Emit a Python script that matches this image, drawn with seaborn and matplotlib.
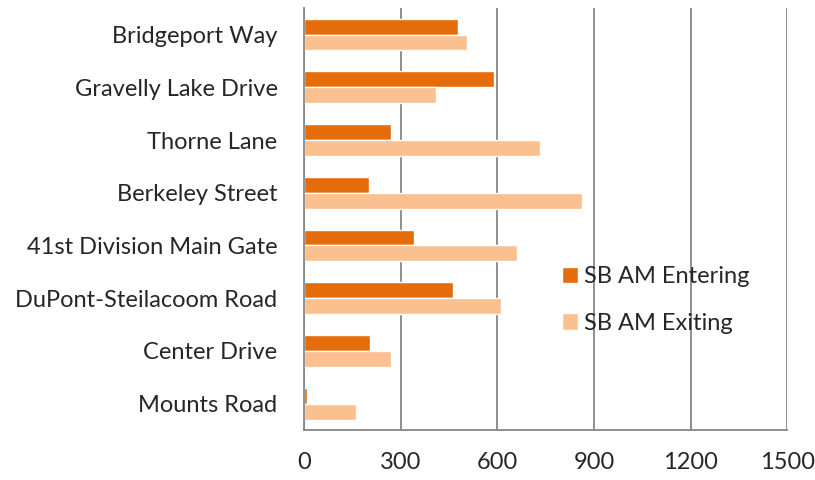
import matplotlib
matplotlib.use("Agg")
import matplotlib.pyplot as plt
import seaborn as sns
import pandas as pd
import numpy as np

categories = ["Bridgeport Way", "Gravelly Lake Drive", "Thorne Lane", "Berkeley Street",
              "41st Division Main Gate", "DuPont-Steilacoom Road", "Center Drive", "Mounts Road"]
entering = [479, 590, 270, 201, 342, 461, 206, 10]
exiting = [505, 410, 734, 864, 660, 611, 270, 161]
series = ["SB AM Entering", "SB AM Exiting"]
xticks = [0, 300, 600, 900, 1200, 1500]

df = pd.DataFrame({
    "Location": categories * 2,
    "Value": entering + exiting,
    "Series": [series[0]] * len(categories) + [series[1]] * len(categories),
})

sns.set_style("white")
plt.rcParams['font.family'] = ['Lato', 'DejaVu Sans']
FS = 17

fig = plt.figure(figsize=(8.15, 4.8), dpi=100)
ax = fig.add_axes([0.373, 0.104, 0.593, 0.879])

sns.barplot(data=df, y="Location", x="Value", hue="Series", order=categories,
            hue_order=series, palette=["#E46C0A", "#FAC090"], width=0.6,
            saturation=1, ax=ax, orient="h")

ax.set_xlim(0, 1500)
ax.set_ylim(len(categories) - 0.5, -0.5)
ax.set_xticks(xticks)
ax.set_xticklabels([str(t) for t in xticks], fontsize=FS)
ax.set_yticks(range(len(categories)))
ax.set_yticklabels(categories, fontsize=FS)
ax.set_yticks(np.arange(-0.5, len(categories), 1.0), minor=True)
ax.tick_params(axis="y", which="major", length=0, pad=19)
ax.tick_params(axis="y", which="minor", length=6, width=1.3, color="#868686", direction="out")
ax.tick_params(axis="x", which="major", length=6, width=1.3, color="#868686", direction="out", pad=10)
ax.set_xlabel("")
ax.set_ylabel("")
ax.grid(axis="x", color="#868686", linewidth=1.3)
ax.set_axisbelow(True)
for s in ["top", "right"]:
    ax.spines[s].set_visible(False)
for s in ["left", "bottom"]:
    ax.spines[s].set_color("#868686")
    ax.spines[s].set_linewidth(1.3)

handles, labels = ax.get_legend_handles_labels()
ax.legend(handles, labels, loc="upper left", bbox_to_anchor=(0.663, 0.49),
          bbox_transform=fig.transFigure, frameon=False, fontsize=FS,
          handlelength=0.7, handleheight=0.7, handletextpad=0.25, labelspacing=1.1)

fig.savefig("out.png", dpi=100)
